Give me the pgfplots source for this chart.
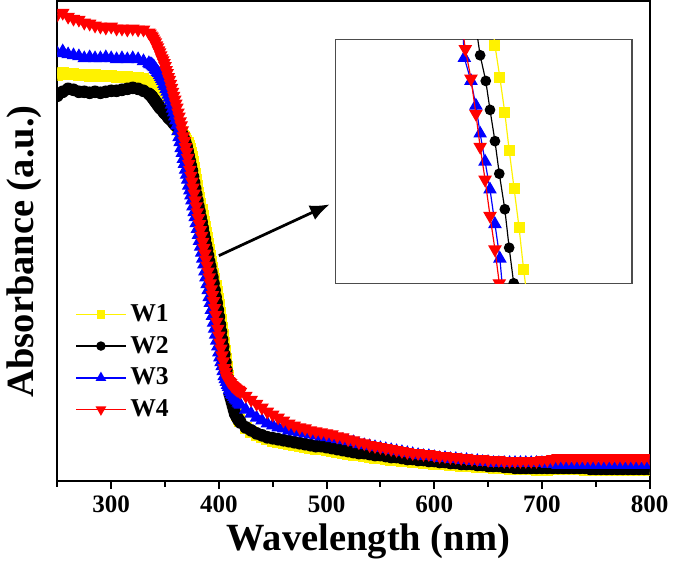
\documentclass[border=0pt]{standalone}
\usepackage{fontspec}
\setmainfont{Liberation Serif}
\usepackage{pgfplots}
\usepackage{pgfplotstable}
\pgfplotsset{compat=1.18}
\usetikzlibrary{arrows.meta}

% absorbance spectra (arbitrary units)
% finer steps across the absorption edge
\pgfplotstableread{
nm  w1   w2   w3   w4
250 4.11 3.90 4.33 4.72
255 4.13 3.94 4.35 4.74
260 4.12 3.97 4.32 4.70
265 4.12 3.96 4.31 4.68
270 4.11 3.94 4.30 4.67
275 4.11 3.94 4.28 4.64
280 4.10 3.93 4.29 4.63
285 4.11 3.94 4.28 4.61
290 4.10 3.93 4.28 4.60
295 4.10 3.94 4.29 4.59
300 4.10 3.95 4.28 4.60
305 4.09 3.95 4.27 4.58
310 4.09 3.96 4.28 4.58
315 4.09 3.97 4.27 4.57
320 4.08 3.98 4.28 4.58
325 4.08 3.97 4.27 4.57
330 4.07 3.95 4.25 4.57
335 4.05 3.92 4.23 4.54
336 4.04 3.91 4.22 4.53
337 4.03 3.90 4.22 4.51
338 4.02 3.89 4.21 4.50
339 4.00 3.87 4.20 4.48
340 3.99 3.86 4.19 4.46
341 3.97 3.84 4.17 4.44
342 3.96 3.83 4.16 4.41
343 3.94 3.81 4.14 4.39
344 3.93 3.80 4.13 4.36
345 3.91 3.78 4.11 4.34
346 3.89 3.77 4.09 4.31
347 3.87 3.76 4.07 4.28
348 3.86 3.75 4.05 4.26
349 3.84 3.73 4.02 4.23
350 3.82 3.72 4.00 4.20
351 3.80 3.71 3.97 4.16
352 3.78 3.70 3.94 4.13
353 3.76 3.68 3.91 4.09
354 3.74 3.67 3.88 4.06
355 3.72 3.66 3.85 4.02
356 3.70 3.65 3.81 3.98
357 3.68 3.64 3.77 3.94
358 3.66 3.62 3.73 3.90
359 3.64 3.61 3.69 3.86
360 3.62 3.60 3.65 3.82
361 3.60 3.59 3.60 3.78
362 3.58 3.58 3.54 3.73
363 3.57 3.56 3.48 3.69
364 3.55 3.55 3.43 3.64
365 3.53 3.53 3.37 3.60
366 3.51 3.51 3.32 3.55
367 3.49 3.48 3.26 3.49
368 3.48 3.45 3.21 3.44
369 3.46 3.42 3.15 3.38
370 3.44 3.39 3.10 3.33
371 3.42 3.34 3.05 3.27
372 3.39 3.29 2.99 3.21
373 3.36 3.24 2.94 3.15
374 3.32 3.19 2.89 3.09
375 3.28 3.14 2.84 3.03
376 3.23 3.08 2.78 2.97
377 3.17 3.02 2.72 2.91
378 3.11 2.96 2.67 2.84
379 3.05 2.90 2.61 2.78
380 2.99 2.84 2.55 2.72
381 2.92 2.78 2.49 2.66
382 2.86 2.73 2.43 2.60
383 2.80 2.67 2.37 2.54
384 2.74 2.62 2.31 2.48
385 2.68 2.56 2.25 2.42
386 2.62 2.50 2.19 2.36
387 2.57 2.45 2.12 2.30
388 2.51 2.39 2.06 2.24
389 2.46 2.34 1.99 2.18
390 2.40 2.28 1.93 2.12
391 2.34 2.22 1.86 2.06
392 2.28 2.17 1.80 2.00
393 2.22 2.11 1.73 1.94
394 2.16 2.06 1.67 1.88
395 2.10 2.00 1.60 1.82
396 2.04 1.93 1.54 1.75
397 1.97 1.86 1.48 1.68
398 1.91 1.80 1.42 1.61
399 1.84 1.73 1.36 1.54
400 1.78 1.66 1.30 1.47
401 1.70 1.58 1.25 1.40
402 1.63 1.51 1.20 1.34
403 1.55 1.43 1.16 1.27
404 1.48 1.36 1.11 1.21
405 1.40 1.28 1.06 1.14
406 1.32 1.20 1.03 1.10
407 1.23 1.12 1.00 1.06
408 1.15 1.04 0.97 1.03
409 1.06 0.96 0.95 1.01
410 0.98 0.88 0.92 1.00
411 0.93 0.84 0.90 0.99
412 0.87 0.80 0.88 0.97
413 0.82 0.76 0.87 0.96
414 0.77 0.72 0.85 0.95
415 0.72 0.68 0.83 0.94
416 0.70 0.66 0.82 0.93
417 0.67 0.64 0.81 0.92
418 0.65 0.62 0.79 0.92
419 0.62 0.61 0.78 0.91
420 0.60 0.59 0.77 0.90
425 0.53 0.54 0.72 0.86
430 0.49 0.51 0.68 0.82
435 0.46 0.48 0.64 0.78
440 0.44 0.46 0.61 0.74
445 0.42 0.44 0.58 0.70
450 0.40 0.43 0.56 0.67
455 0.39 0.42 0.54 0.64
460 0.38 0.41 0.53 0.61
465 0.37 0.40 0.51 0.58
470 0.36 0.39 0.50 0.56
475 0.35 0.38 0.49 0.54
480 0.34 0.37 0.48 0.53
485 0.33 0.36 0.47 0.51
490 0.32 0.35 0.46 0.50
495 0.32 0.35 0.45 0.49
500 0.31 0.34 0.44 0.48
505 0.30 0.33 0.43 0.47
510 0.29 0.32 0.42 0.45
515 0.28 0.31 0.41 0.44
520 0.27 0.30 0.40 0.42
525 0.26 0.29 0.39 0.41
530 0.26 0.28 0.37 0.39
535 0.25 0.28 0.36 0.38
540 0.24 0.27 0.35 0.36
545 0.23 0.26 0.34 0.35
550 0.23 0.26 0.33 0.34
555 0.22 0.25 0.32 0.33
560 0.21 0.24 0.31 0.32
565 0.21 0.24 0.30 0.31
570 0.20 0.23 0.29 0.30
575 0.20 0.22 0.28 0.29
580 0.19 0.22 0.27 0.28
585 0.19 0.21 0.26 0.28
590 0.18 0.21 0.25 0.27
595 0.18 0.20 0.25 0.27
600 0.17 0.20 0.24 0.26
605 0.17 0.19 0.23 0.25
610 0.17 0.19 0.23 0.25
615 0.16 0.18 0.22 0.24
620 0.16 0.18 0.22 0.24
625 0.15 0.17 0.21 0.23
630 0.15 0.17 0.21 0.23
635 0.15 0.17 0.20 0.22
640 0.14 0.16 0.20 0.22
645 0.14 0.16 0.19 0.22
650 0.14 0.15 0.19 0.21
655 0.13 0.15 0.18 0.21
660 0.13 0.15 0.18 0.21
665 0.13 0.14 0.18 0.20
670 0.12 0.14 0.18 0.20
675 0.12 0.13 0.18 0.20
680 0.12 0.13 0.18 0.20
685 0.12 0.13 0.18 0.20
690 0.12 0.13 0.18 0.20
695 0.11 0.13 0.18 0.20
700 0.11 0.13 0.18 0.21
705 0.11 0.13 0.17 0.21
710 0.12 0.13 0.17 0.22
715 0.12 0.13 0.16 0.23
720 0.12 0.13 0.16 0.23
725 0.12 0.13 0.16 0.23
730 0.12 0.13 0.16 0.23
735 0.12 0.13 0.16 0.23
740 0.11 0.13 0.16 0.23
745 0.11 0.12 0.16 0.23
750 0.11 0.12 0.16 0.23
755 0.11 0.12 0.16 0.23
760 0.11 0.12 0.16 0.23
765 0.11 0.12 0.16 0.23
770 0.11 0.12 0.16 0.23
775 0.11 0.12 0.16 0.23
780 0.11 0.12 0.16 0.23
785 0.11 0.12 0.16 0.23
790 0.11 0.12 0.16 0.23
795 0.11 0.12 0.16 0.23
800 0.11 0.12 0.16 0.23
}\spectra

\begin{document}
\begin{tikzpicture}
\begin{axis}[
  name=main, scale only axis, width=300pt, height=243pt,
  xmin=250, xmax=800, ymin=0, ymax=4.86,
  axis line style={line width=1pt}, every tick/.style={black, line width=1pt},
  xtick={300,400,...,800}, minor xtick={250,350,...,750},
  ytick=\empty, xtick pos=bottom, tick align=outside,
  major tick length=4pt, minor tick length=3pt,
  /pgf/number format/assume math mode=true,
  ticklabel style={font=\fontsize{12.7}{14}\selectfont\bfseries},
  xlabel={Wavelength (nm)}, ylabel={Absorbance (a.u.)},
  xlabel style={font=\fontsize{19.5}{22}\selectfont\bfseries, at={(axis description cs:0.525,-0.075)}, anchor=north},
  ylabel style={font=\fontsize{19.5}{22}\selectfont\bfseries, at={(axis description cs:-0.015,0.478)}, anchor=south},
  clip marker paths=true,
  legend style={at={(axis description cs:0.02,0.385)}, anchor=north west, draw=none, fill=none,
    font=\fontsize{13}{15}\selectfont\bfseries, row sep=2pt},
  legend image code/.code={\draw[mark repeat=2,mark phase=2,#1] plot coordinates {(0pt,0pt) (12.5pt,0pt) (25pt,0pt)};},
]
\addlegendimage{yellow, line width=0.75pt, mark=square*, mark size=1.8pt}
\addlegendimage{black, line width=0.75pt, mark=*, mark size=2pt}
\addlegendimage{blue, line width=0.75pt, mark=triangle*, mark size=2.4pt}
\addlegendimage{red, line width=0.75pt, mark=triangle*, mark size=2.4pt, mark options={rotate=180}}
\addplot[forget plot, yellow, line width=0.6pt, mark=square*, mark size=2.7pt] table[x=nm, y=w1] {\spectra};
\addplot[forget plot, black, line width=0.6pt, mark=*, mark size=2.9pt] table[x=nm, y=w2] {\spectra};
\addplot[forget plot, blue, line width=0.6pt, mark=triangle*, mark size=3.4pt] table[x=nm, y=w3] {\spectra};
\addplot[forget plot, red, line width=0.6pt, mark=triangle*, mark size=3.4pt, mark options={rotate=180}] table[x=nm, y=w4] {\spectra};
\legend{W1, W2, W3, W4}
\draw[line width=1.4pt, -{Latex[length=10pt, width=8pt]}] (axis cs:400,2.28) -- (axis cs:503,2.80);
\end{axis}

% magnified view of the absorption edge
\begin{axis}[
  at={(141pt,100pt)}, anchor=south west,
  scale only axis, width=150pt, height=123.5pt,
  xmin=0, xmax=300, ymin=0, ymax=247,
  xtick=\empty, ytick=\empty,
  axis line style={gray!60!black, line width=0.7pt},
  clip marker paths=true,
]
\addplot[yellow, line width=0.6pt, mark=square*, mark size=2.5pt] coordinates {
  (158.6,262) (161.3,241) (166.3,208.3) (171.3,172.7) (175.7,135) (180.7,96) (185.7,56.7) (190.3,14.3) (194.0,-15)};
\addplot[black, line width=0.6pt, mark=*, mark size=2.4pt] coordinates {
  (141.7,262) (146.3,231) (152,205) (156.3,175.7) (161.3,144) (165.7,111) (171.3,75) (175.7,36) (180.3,0) (182.5,-15)};
\addplot[blue, line width=0.6pt, mark=triangle*, mark size=3.4pt] coordinates {
  (128.5,262) (130.3,228.3) (137,205) (142,180) (146.3,151.7) (151.3,123.3) (156.3,95) (161.3,60) (166.3,25) (169.9,-15)};
\addplot[red, line width=0.6pt, mark=triangle*, mark size=3.4pt, mark options={rotate=180}] coordinates {
  (127.8,262) (131.3,237.3) (137,207.3) (142,171.7) (146.3,138.3) (151.3,105) (156.3,68.3) (161.3,34.3) (165.7,0) (167.7,-15)};
\end{axis}
\end{tikzpicture}
\end{document}
